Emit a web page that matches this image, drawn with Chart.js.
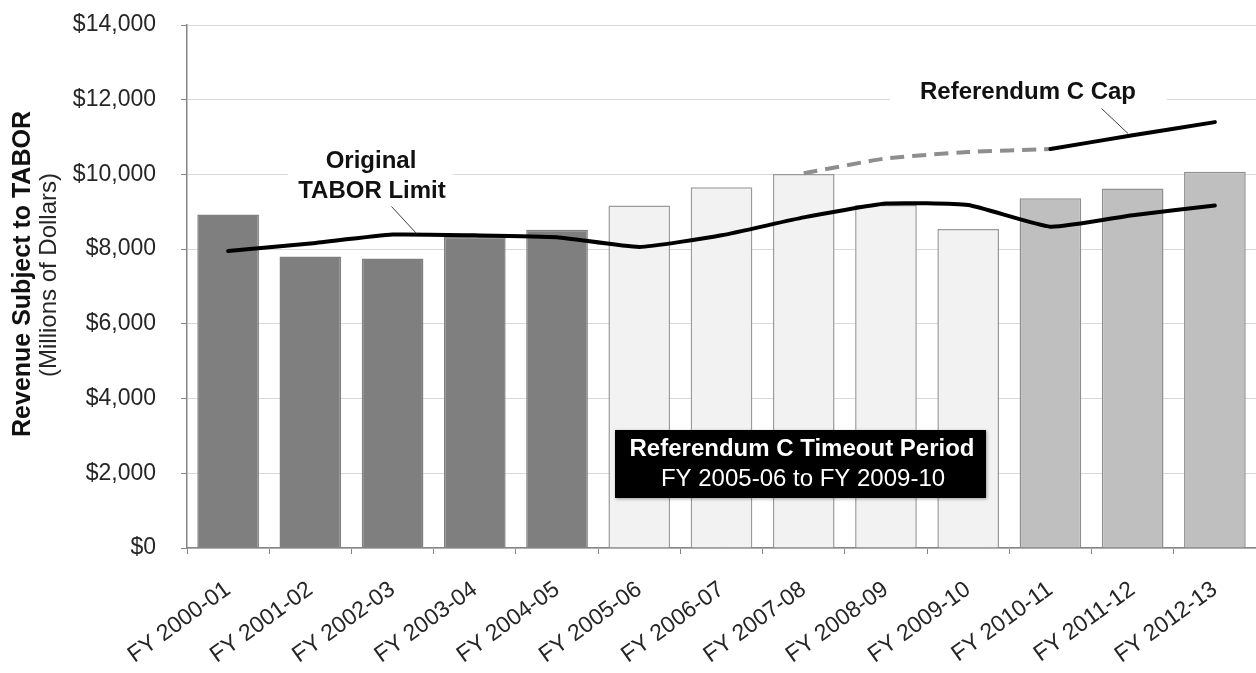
<!DOCTYPE html>
<html>
<head>
<meta charset="utf-8">
<script src="https://cdn.jsdelivr.net/npm/chart.js@4"></script>
<style>
html,body{margin:0;padding:0;background:#fff;}
#wrap{width:1256px;height:673px;}
</style>
</head>
<body>
<div id="wrap"><canvas id="c" width="1256" height="673"></canvas></div>
<script>
const categories = ["FY 2000-01","FY 2001-02","FY 2002-03","FY 2003-04","FY 2004-05","FY 2005-06","FY 2006-07","FY 2007-08","FY 2008-09","FY 2009-10","FY 2010-11","FY 2011-12","FY 2012-13"];
const revenue = [8930, 7800, 7750, 8330, 8520, 9170, 9660, 10010, 9180, 8540, 9360, 9620, 10070];
const taborLimit = [7950, 8150, 8390, 8370, 8320, 8060, 8370, 8850, 9220, 9180, 8600, 8910, 9170];
const refCProjected = [null, null, null, null, null, null, null, 10030, 10430, 10600, 10680, null, null];
const refCCap = [null, null, null, null, null, null, null, null, null, null, 10680, 11050, 11400];
const periods = ["before","before","before","before","before","timeout","timeout","timeout","timeout","timeout","after","after","after"];
const yTicks = [0, 2000, 4000, 6000, 8000, 10000, 12000, 14000];

const fillByPeriod = {before:"#7f7f7f", timeout:"#f2f2f2", after:"#bfbfbf"};
const borderByPeriod = {before:"#7f7f7f", timeout:"#9a9a9a", after:"#8f8f8f"};

const FONT = "'Liberation Sans', Arial, sans-serif";

const annotations = {
  id: "annotations",
  beforeDatasetsDraw(chart) {
    const ctx = chart.ctx;
    ctx.save();
    ctx.fillStyle = "#ffffff";
    ctx.fillRect(288, 143, 165, 62);
    ctx.fillRect(890, 70, 277, 42);
    ctx.restore();
  },
  afterDatasetsDraw(chart) {
    const ctx = chart.ctx;
    ctx.save();
    ctx.strokeStyle = "#404040";
    ctx.lineWidth = 1;
    ctx.beginPath();
    ctx.moveTo(391.5, 206.5); ctx.lineTo(416.5, 233.5);
    ctx.moveTo(1101.5, 108.5); ctx.lineTo(1128, 133.5);
    ctx.stroke();
    ctx.fillStyle = "#111111";
    ctx.textAlign = "center";
    ctx.textBaseline = "alphabetic";
    ctx.font = "bold 24px " + FONT;
    ctx.fillText("Original", 371, 168);
    ctx.fillText("TABOR Limit", 372, 198);
    ctx.fillText("Referendum C Cap", 1028, 99);
    ctx.save();
    ctx.shadowColor = "rgba(0,0,0,0.35)";
    ctx.shadowBlur = 3;
    ctx.shadowOffsetX = 1;
    ctx.shadowOffsetY = 1;
    ctx.fillStyle = "#000000";
    ctx.fillRect(615, 430, 371, 68);
    ctx.restore();
    ctx.fillStyle = "#ffffff";
    ctx.font = "bold 24px " + FONT;
    ctx.fillText("Referendum C Timeout Period", 802, 456);
    ctx.font = "24px " + FONT;
    ctx.fillText("FY 2005-06 to FY 2009-10", 803, 486);
    ctx.fillStyle = "#111111";
    ctx.save();
    ctx.translate(23, 274);
    ctx.rotate(-Math.PI / 2);
    ctx.textBaseline = "middle";
    ctx.font = "bold 25px " + FONT;
    ctx.fillText("Revenue Subject to TABOR", 0, 0);
    ctx.restore();
    ctx.save();
    ctx.translate(49, 275);
    ctx.rotate(-Math.PI / 2);
    ctx.textBaseline = "middle";
    ctx.font = "24px " + FONT;
    ctx.fillStyle = "#262626";
    ctx.fillText("(Millions of Dollars)", 0, 0);
    ctx.restore();
    ctx.restore();
  }
};

new Chart(document.getElementById("c"), {
  data: {
    labels: categories,
    datasets: [
      {
        type: "line",
        label: "Original TABOR Limit",
        data: taborLimit,
        borderColor: "#000000",
        borderWidth: 4,
        pointRadius: 0,
        tension: 0.15,
        borderCapStyle: "round",
        borderJoinStyle: "round",
        order: 1
      },
      {
        type: "line",
        label: "Referendum C Cap (projected)",
        data: refCProjected,
        borderColor: "#8e8e8e",
        borderWidth: 4,
        borderDash: [14, 8],
        pointRadius: 0,
        tension: 0.15,
        spanGaps: false,
        order: 2
      },
      {
        type: "line",
        label: "Referendum C Cap",
        data: refCCap,
        borderColor: "#000000",
        borderWidth: 4,
        pointRadius: 0,
        tension: 0.1,
        borderCapStyle: "round",
        spanGaps: false,
        order: 1
      },
      {
        type: "bar",
        label: "Revenue Subject to TABOR",
        data: revenue,
        backgroundColor: periods.map(p => fillByPeriod[p]),
        borderColor: periods.map(p => borderByPeriod[p]),
        borderWidth: 1.5,
        barPercentage: 0.75,
        categoryPercentage: 1.0,
        order: 5
      }
    ]
  },
  options: {
    responsive: false,
    animation: false,
    events: [],
    layout: { padding: { top: 25, right: 0, bottom: 0, left: 0 } },
    plugins: {
      legend: { display: false },
      tooltip: { enabled: false },
      title: { display: false }
    },
    scales: {
      x: {
        type: "category",
        offset: true,
        afterFit(s) { s.height = 125; s.paddingTop = 0; s.paddingBottom = 0; },
        grid: {
          display: true,
          offset: true,
          drawOnChartArea: false,
          drawTicks: true,
          tickLength: 6,
          tickColor: "#868686",
          lineWidth: 1
        },
        border: { display: true, color: "#868686", width: 1.5 },
        ticks: {
          autoSkip: false,
          minRotation: 36,
          maxRotation: 36,
          padding: 22,
          color: "#262626",
          font: { family: FONT, size: 23 }
        }
      },
      y: {
        min: 0,
        max: 14000,
        afterFit(s) { s.width = 187; s.paddingTop = 0; s.paddingBottom = 0; },
        afterBuildTicks(s) { s.ticks = yTicks.map(v => ({ value: v })); },
        grid: {
          color: "#d9d9d9",
          lineWidth: 1,
          drawTicks: true,
          tickLength: 6,
          tickColor: "#868686"
        },
        border: { display: true, color: "#868686", width: 1.5 },
        ticks: {
          padding: 25,
          color: "#262626",
          font: { family: FONT, size: 23 },
          callback: v => "$" + Number(v).toLocaleString("en-US")
        }
      }
    }
  },
  plugins: [annotations]
});
</script>
</body>
</html>
